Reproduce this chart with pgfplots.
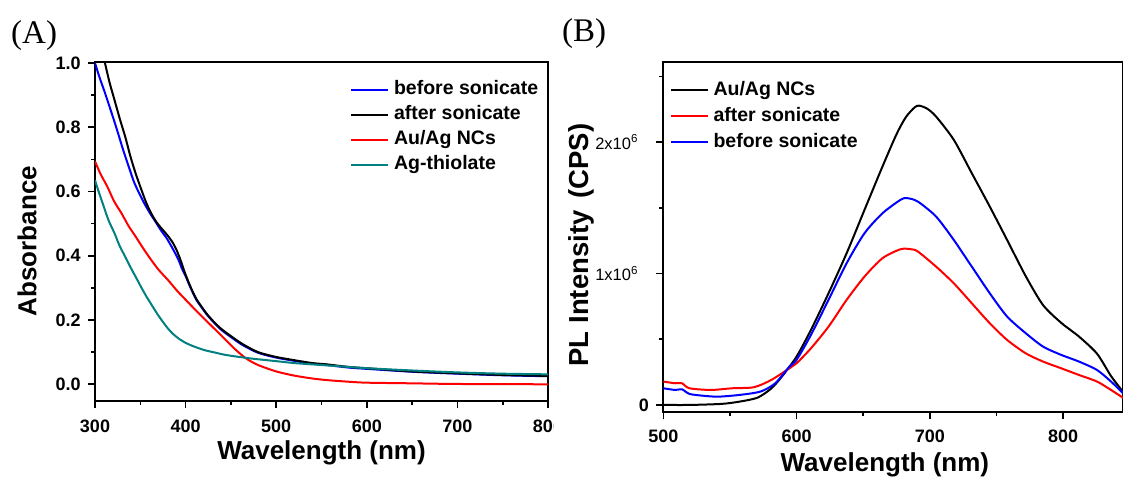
\documentclass[border=0pt]{standalone}
\usepackage{pgfplots}
\pgfplotsset{compat=1.18}
\usepackage{fontspec}
\setmainfont{Liberation Sans}
\newfontfamily\serifA{Liberation Serif}
\definecolor{teal2}{RGB}{0,128,128}
\begin{document}
\begin{tikzpicture}
\pgfplotsset{
 every axis/.append style={line width=2pt},
 common/.style={
  scale only axis,
  axis line style={line width=2.2pt},
  every tick/.style={line width=1.6pt, black},
  major tick length=7pt, minor tick length=4pt,
  tick align=outside, xtick pos=bottom, ytick pos=left,
  ticklabel style={font=\fontsize{18}{20}\selectfont\bfseries},
  /pgf/number format/assume math mode=true,
  label style={font=\fontsize{26}{28}\selectfont\bfseries},
  legend cell align=left,
  legend style={draw=none, fill=none, inner sep=0pt, outer sep=0pt,
    font=\fontsize{19.5}{21}\selectfont\bfseries,
    row sep=5pt, column sep=5pt,
    nodes={inner sep=0pt, text height=15pt, text depth=5pt}},
  legend image code/.code={\draw[##1,line width=2pt] (0pt,0pt) -- (37pt,0pt);},
  every axis plot/.append style={line width=2pt, smooth, tension=0.45},
 }
}
\begin{scope}
\clip (0,0) rectangle (553pt,479pt);
\begin{axis}[common,
  at={(95pt,78pt)}, anchor=south west, width=453pt, height=339pt,
  xmin=300, xmax=800, ymin=-0.052, ymax=1.003,
  xtick={300,400,500,600,700,800}, minor x tick num=1,
  ytick={0,0.2,0.4,0.6,0.8,1.0}, minor y tick num=1,
  yticklabel style={xshift=-3pt, /pgf/number format/.cd, fixed, fixed zerofill, precision=1},
  xticklabel style={yshift=-8pt},
  xlabel={Wavelength (nm)}, ylabel={Absorbance},
  xlabel style={at={(axis description cs:0.5,-0.174)}, anchor=base},
  ylabel style={at={(axis description cs:-0.150,0.472)}, anchor=center},
  legend style={at={(axis description cs:0.563,0.947)}, anchor=north west},
]
\addplot[blue] coordinates {(300,1.0)(305,0.955)(310,0.915)(313.8,0.883)(320,0.83)(325.6,0.78)(331,0.73)(337.4,0.676)(343,0.63)(349,0.593)(355,0.56)(361,0.531)(367,0.505)(372.8,0.479)(379,0.455)(384.6,0.428)(389,0.405)(392.5,0.385)(396,0.36)(400.4,0.334)(404,0.31)(408,0.285)(412,0.262)(418,0.238)(424,0.215)(432,0.19)(440,0.168)(452,0.143)(463,0.122)(480,0.098)(500,0.083)(520,0.073)(540,0.064)(556,0.06)(580,0.052)(600,0.048)(650,0.039)(700,0.033)(750,0.028)(800,0.025)};
\addlegendentry{before sonicate}
\addplot[black] coordinates {(311,1.0)(316,0.94)(321.7,0.883)(327.5,0.825)(333.5,0.769)(339,0.71)(345,0.655)(351,0.607)(357,0.562)(363,0.527)(369,0.5)(375,0.48)(381,0.46)(386,0.44)(390,0.418)(394,0.39)(397,0.365)(400.4,0.338)(404,0.313)(408,0.287)(412,0.265)(418,0.24)(424,0.217)(432,0.192)(440,0.171)(452,0.146)(463,0.125)(480,0.1)(500,0.085)(520,0.075)(540,0.066)(556,0.062)(580,0.054)(600,0.05)(650,0.04)(700,0.034)(750,0.029)(800,0.026)};
\addlegendentry{after sonicate}
\addplot[red] coordinates {(300,0.694)(306,0.655)(313.8,0.614)(321,0.57)(329.5,0.531)(337,0.493)(345,0.459)(353,0.424)(361,0.391)(370,0.357)(380.7,0.324)(390,0.293)(400.4,0.262)(412,0.228)(422,0.2)(435,0.164)(445,0.136)(455,0.108)(467,0.08)(480,0.06)(500,0.04)(520,0.027)(540,0.018)(556,0.013)(580,0.008)(600,0.005)(650,0.003)(700,0.001)(800,0.0)};
\addlegendentry{Au/Ag NCs}
\addplot[teal2] coordinates {(300,0.635)(304,0.6)(309.8,0.552)(315,0.51)(321.7,0.469)(327,0.432)(333.5,0.396)(339,0.365)(345,0.334)(351,0.302)(357,0.272)(363,0.245)(369,0.218)(375,0.194)(380.7,0.173)(386,0.157)(392.5,0.142)(400,0.129)(408,0.119)(420,0.107)(432,0.099)(445,0.091)(470,0.081)(500,0.072)(520,0.066)(550,0.06)(575,0.055)(600,0.05)(650,0.043)(700,0.037)(750,0.033)(800,0.031)};
\addlegendentry{Ag-thiolate}
\end{axis}
\end{scope}
\begin{axis}[common,
  at={(663.3pt,66.7pt)}, anchor=south west, width=459.7pt, height=350pt,
  xmin=500, xmax=845, ymin=-0.056, ymax=2.608,
  xtick={500,600,700,800}, minor xtick={550,650,750},
  ytick={0,1,2}, minor ytick={0.5,1.5,2.5},
  yticklabels={0, {\mdseries\fontsize{16.5}{18}\selectfont 1x10\textsuperscript{6}\kern11pt}, {\mdseries\fontsize{16.5}{18}\selectfont 2x10\textsuperscript{6}\kern11pt}},
  yticklabel style={xshift=-3pt},
  xticklabel style={yshift=-6pt},
  xlabel={Wavelength (nm)}, ylabel={\fontsize{27.5}{29}\selectfont PL Intensity\hspace{12pt}(CPS)},
  xlabel style={at={(axis description cs:0.482,-0.168)}, anchor=base},
  ylabel style={at={(axis description cs:-0.178,0.478)}, anchor=center},
  legend style={at={(axis description cs:0.0135,0.949)}, anchor=north west, row sep=6pt},
]
\addplot[black] coordinates {(500,0.0)(520,0.0)(543.7,0.008)(557,0.025)(570.6,0.055)(581,0.125)(589,0.216)(600,0.368)(610.8,0.571)(624,0.85)(637.6,1.155)(651,1.485)(664.5,1.815)(675,2.06)(682,2.19)(688.6,2.265)(692,2.278)(698,2.255)(704.7,2.195)(718,2.018)(731.5,1.764)(745,1.51)(758,1.256)(772,0.98)(785,0.76)(798.6,0.625)(812,0.52)(825.5,0.39)(836,0.22)(845,0.1)};
\addlegendentry{Au/Ag NCs}
\addplot[red] coordinates {(500,0.178)(508.9,0.165)(514,0.165)(519.6,0.127)(535.7,0.114)(551.8,0.127)(568,0.135)(581,0.19)(594.7,0.279)(600,0.317)(610.8,0.431)(624,0.596)(637.6,0.8)(651,0.977)(664.5,1.117)(678,1.185)(686,1.185)(691,1.168)(704.7,1.053)(718,0.926)(731.5,0.774)(745,0.622)(758,0.495)(772,0.393)(785,0.33)(798.6,0.279)(812,0.228)(825.5,0.178)(836,0.114)(845,0.055)};
\addlegendentry{after sonicate}
\addplot[blue] coordinates {(500,0.127)(508.9,0.114)(514,0.119)(519.6,0.084)(530,0.07)(541,0.063)(557,0.076)(573,0.102)(584,0.165)(594.7,0.292)(600,0.343)(610.8,0.533)(624,0.8)(637.6,1.079)(651,1.307)(664.5,1.459)(678,1.561)(683,1.574)(691,1.548)(704.7,1.434)(718,1.256)(731.5,1.053)(745,0.85)(758,0.673)(772,0.546)(785,0.444)(798.6,0.381)(812,0.33)(825.5,0.266)(836,0.178)(845,0.09)};
\addlegendentry{before sonicate}
\end{axis}
\node[font=\serifA\fontsize{33}{35}\selectfont, anchor=base west, inner sep=0pt] at (11pt,435.7pt) {(A)};
\node[font=\serifA\fontsize{33}{35}\selectfont, anchor=base west, inner sep=0pt] at (562pt,437.3pt) {(B)};
\pgfresetboundingbox
\useasboundingbox (0,0) rectangle (1123pt,479pt);
\end{tikzpicture}
\end{document}
